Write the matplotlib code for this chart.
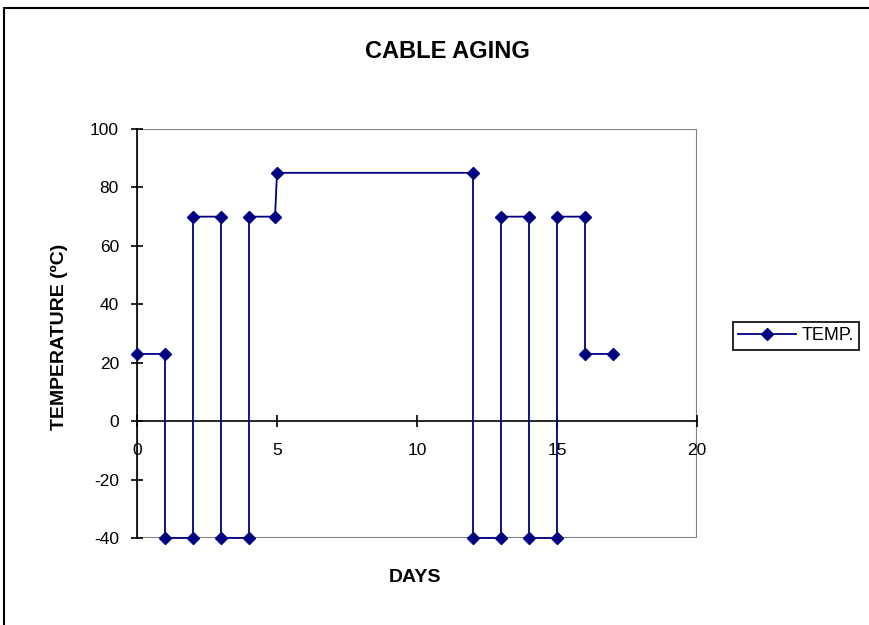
import matplotlib.pyplot as plt
from matplotlib.patches import Rectangle

# step profile of the aging cycle
days = [0, 1, 1, 2, 2, 3, 3, 4, 4, 4.93, 5, 12, 12, 13, 13, 14, 14, 15, 15, 16, 16, 17]
temp = [23, 23, -40, -40, 70, 70, -40, -40, 70, 70, 85, 85, -40, -40, 70, 70, -40, -40, 70, 70, 23, 23]
xticks = [0, 5, 10, 15, 20]
yticks = [-40, -20, 0, 20, 40, 60, 80, 100]

plt.rcParams['font.family'] = ['Liberation Sans', 'DejaVu Sans']
plt.rcParams['axes.unicode_minus'] = False

fig = plt.figure(figsize=(8.7, 6.25), dpi=100)
fig.patches.append(Rectangle((4 / 870, -0.1), 1.2, 1 - 8 / 625 + 0.1, transform=fig.transFigure,
                             fill=False, edgecolor='black', linewidth=1.5))

ax = fig.add_axes([137 / 870, 1 - 538 / 625, 560 / 870, 409 / 625])
ax.plot(days, temp, color='#000080', marker='D', markersize=6.5, linewidth=1.3,
        label='TEMP.', clip_on=False, zorder=3)

ax.set_xlim(0, 20)
ax.set_ylim(-40, 100)
ax.set_xticks(xticks)
ax.set_yticks(yticks)

# plot area border in gray, axes through zero in black
ax.add_patch(Rectangle((0, 0), 1, 1, transform=ax.transAxes, fill=False,
                       edgecolor='#808080', linewidth=1.5, zorder=0.5))
for s in ['top', 'right']:
    ax.spines[s].set_visible(False)
ax.spines['bottom'].set_position(('data', 0))
for s in ['left', 'bottom']:
    ax.spines[s].set_color('black')
    ax.spines[s].set_linewidth(1.2)
ax.tick_params(direction='inout', length=8, width=1.2, labelsize=12.5)
ax.tick_params(axis='y', pad=9)
ax.tick_params(axis='x', pad=12)

fig.text(447 / 870, 1 - 51 / 625, 'CABLE AGING', fontsize=17, fontweight='bold',
         ha='center', va='center')
fig.text(59 / 870, 1 - 337 / 625, 'TEMPERATURE (ºC)', fontsize=14, fontweight='bold',
         ha='center', va='center', rotation=90)
fig.text(415 / 870, 1 - 578 / 625, 'DAYS', fontsize=14, fontweight='bold',
         ha='center', va='center')

leg = ax.legend(loc='center left', bbox_to_anchor=(733 / 870, 1 - 336 / 625),
                bbox_transform=fig.transFigure, fontsize=13, fancybox=False,
                edgecolor='black', framealpha=1, handlelength=3.2, borderpad=0.3,
                handletextpad=0.3, borderaxespad=0)
leg.get_frame().set_linewidth(1.2)

fig.savefig('out.png', dpi=100)
